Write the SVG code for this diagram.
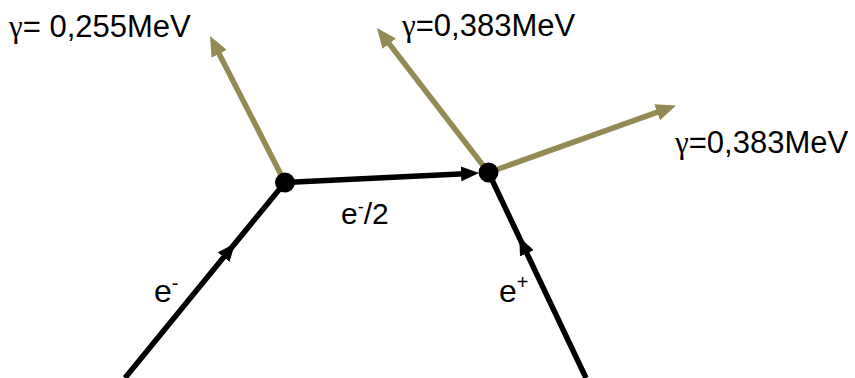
<svg xmlns="http://www.w3.org/2000/svg" width="855" height="378" viewBox="0 0 855 378">
  <style>
    .e { stroke: #000; stroke-width: 5.5; fill: none; }
    .g { stroke: #948A54; stroke-width: 5.5; fill: none; }
    .lbl { font-family: "Liberation Sans", Arial, sans-serif; fill: #000; }
    .gam { font-family: "Liberation Serif", "DejaVu Serif", serif; }
    .vtx { fill: #000; }
  </style>
  <defs>
    <marker id="ab" viewBox="0 0 18 15" refX="9" refY="7.5" markerWidth="18" markerHeight="15" markerUnits="userSpaceOnUse" orient="auto">
      <path d="M0,0 L18,7.5 L0,15 z" fill="#000"/>
    </marker>
    <marker id="ag" viewBox="0 0 20 17" refX="10" refY="8.5" markerWidth="20" markerHeight="17" markerUnits="userSpaceOnUse" orient="auto">
      <path d="M0,0 L20,8.5 L0,17 z" fill="#948A54"/>
    </marker>
  </defs>
  <g id="connectors">
    <path class="g" d="M285,182.5 L214.6,44.9" marker-end="url(#ag)"/>
    <path class="g" d="M488.5,172.5 L383.1,35.9" marker-end="url(#ag)"/>
    <path class="g" d="M488.5,172.5 L666.6,108.9" marker-end="url(#ag)"/>
    <path class="e" d="M125,378 L229.4,250.2 L285,182.5" marker-mid="url(#ab)"/>
    <path class="e" d="M586,378 L523,245.2 L488.5,172.5" marker-mid="url(#ab)"/>
    <path class="e" d="M285,182.5 L470,173.4" marker-end="url(#ab)"/>
  </g>
  <g id="v1"><circle class="vtx" cx="285" cy="182.5" r="10"/></g>
  <g id="v2"><circle class="vtx" cx="488.5" cy="172.5" r="10"/></g>
  <g id="labels">
    <text class="lbl" x="9" y="37" font-size="31"><tspan class="gam">γ</tspan>= 0,255MeV</text>
    <text class="lbl" x="402" y="36" font-size="31"><tspan class="gam">γ</tspan>=0,383MeV</text>
    <text class="lbl" x="675" y="153" font-size="31"><tspan class="gam">γ</tspan>=0,383MeV</text>
    <text class="lbl" x="154" y="302" font-size="32">e<tspan font-size="20" dy="-12">-</tspan></text>
    <text class="lbl" x="499" y="302" font-size="32">e<tspan font-size="20" dy="-13">+</tspan></text>
    <text class="lbl" x="341" y="224" font-size="30">e<tspan font-size="18" dy="-11">-</tspan><tspan dy="11">/2</tspan></text>
  </g>
</svg>
